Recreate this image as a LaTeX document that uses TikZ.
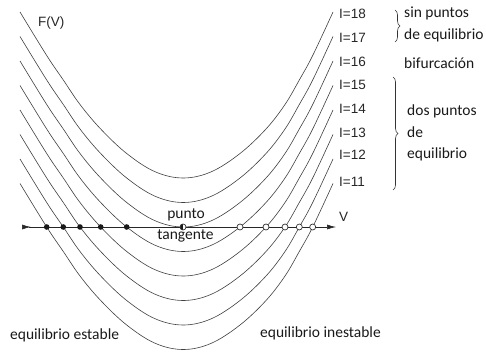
\documentclass[tikz,border=0pt]{standalone}
\usepackage{fontspec}
\setmainfont{Carlito}
\newfontfamily\arialfont{Liberation Sans}
\usetikzlibrary{arrows.meta,decorations.pathreplacing}

\tikzset{
    curve/.style={line width=0.6pt, black!75},
    txt/.style={font=\fontsize{15.5}{18}\selectfont, inner sep=0pt, text=black!90},
    ilabel/.style={font=\arialfont\fontsize{13.5}{16}\selectfont, inner sep=0pt, anchor=west, text=black!85},
    stabledot/.style={circle, fill=black!90, inner sep=0pt, minimum size=5.6pt},
    unstabledot/.style={circle, draw=black!80, fill=white, line width=0.7pt, inner sep=0pt, minimum size=6pt},
    mybrace/.style={decorate, decoration={brace, amplitude=5pt}, line width=0.6pt, black!80}
}

\begin{document}
\begin{tikzpicture}[x=1pt, y=-1pt, >=stealth]
    \useasboundingbox (0,0) rectangle (486,353);

    % Curves F(V), one for each I
    \foreach \I [count=\k from 0] in {18,17,16,15,14,13,12,11} {
        \begin{scope}[shift={(183,{178+24.5*\k})}]
            \draw[curve] plot[smooth, tension=0.6] coordinates {
                (-163,-166) (-136.3,-122.5) (-119.7,-98) (-103,-73.5)
                (-82.3,-49) (-56.3,-24.5) (-28,-6.3) (0,0) (28,-6.1)
                (57,-24.5) (83,-49) (102,-73.5) (116.3,-98) (129.7,-122.5)
                (150,-166)};
        \end{scope}
    }

    % V axis
    \coordinate (axL) at (22,227);
    \coordinate (axR) at (336,227);
    \draw[line width=0.6pt, black!85, {Latex[reversed, length=9pt, width=5pt]}-{Latex[length=9pt, width=5pt]}] (axL) -- (axR);
    \node[ilabel] (v) at (339,217) {V};
    \node[ilabel] (fv) at (38,23) {F(V)};

    % stable points
    \node[stabledot] (s11) at (46.7,227) {};
    \node[stabledot] (s12) at (63.3,227) {};
    \node[stabledot] (s13) at (80,227) {};
    \node[stabledot] (s14) at (100.7,227) {};
    \node[stabledot] (s15) at (126.7,227) {};

    % unstable points
    \node[unstabledot] (u15) at (240,227) {};
    \node[unstabledot] (u14) at (266,227) {};
    \node[unstabledot] (u13) at (285,227) {};
    \node[unstabledot] (u12) at (299.3,227) {};
    \node[unstabledot] (u11) at (312.7,227) {};

    % tangent point
    \node[unstabledot, path picture={\fill[black!90] (path picture bounding box.south) rectangle (path picture bounding box.north west);}] (t16) at (183,227) {};
    \node[txt] (punto) at (186,215) {punto};
    \node[txt] (tang) at (185.5,236) {tangente};

    % I labels
    \node[ilabel] (i18) at (339,14) {I=18};
    \node[ilabel] (i17) at (339,38) {I=17};
    \node[ilabel] (i16) at (339,62) {I=16};
    \node[ilabel] (i15) at (339,85) {I=15};
    \node[ilabel] (i14) at (339,109) {I=14};
    \node[ilabel] (i13) at (339,133) {I=13};
    \node[ilabel] (i12) at (339,155) {I=12};
    \node[ilabel] (i11) at (339,182) {I=11};

    % Braces and their texts
    \draw[mybrace] (395,10) -- (395,42);
    \node[txt, anchor=west, align=left] (sin) at (404,24) {sin puntos\\[4pt]de equilibrio};
    \node[txt, anchor=west] (bif) at (404,63) {bifurcación};
    \draw[mybrace] (393,77) -- (393,190);
    \node[txt, anchor=west, align=left] (dos) at (407,133) {dos puntos\\[3.5pt]de\\[3.5pt]equilibrio};

    % Bottom texts
    \node[txt, anchor=west] (est) at (10,335) {equilibrio estable};
    \node[txt, anchor=west] (inest) at (260,333) {equilibrio inestable};
\end{tikzpicture}
\end{document}
